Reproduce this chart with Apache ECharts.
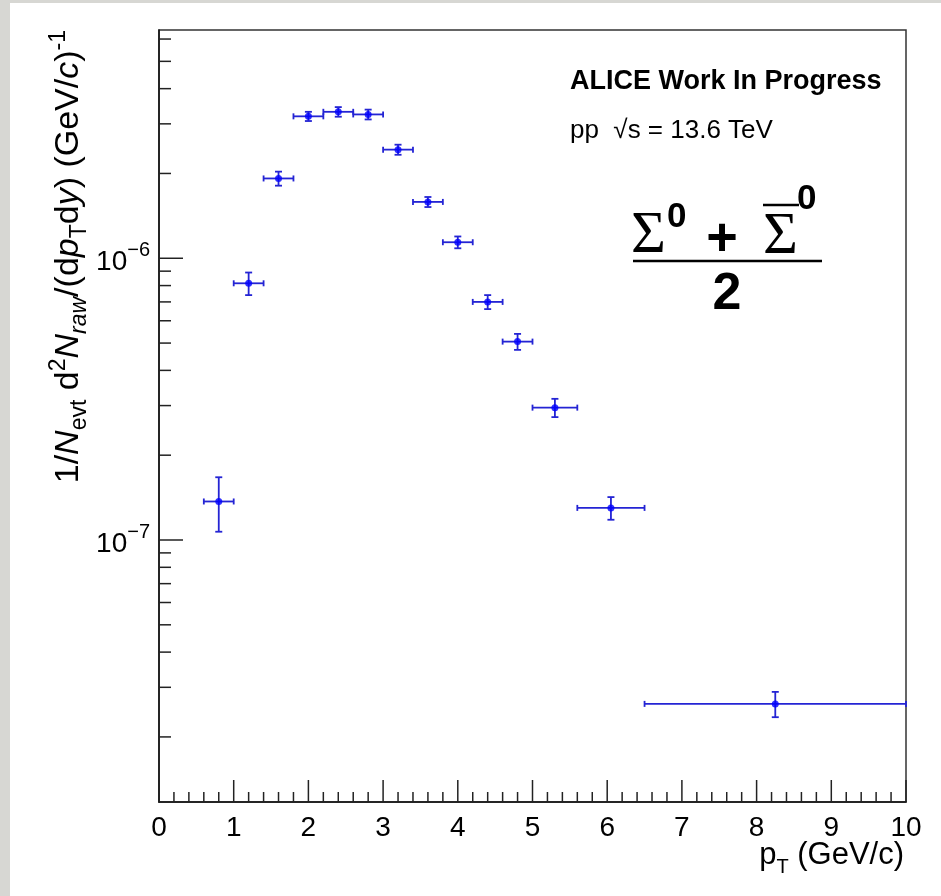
<!DOCTYPE html>
<html><head><meta charset="utf-8">
<script src="https://cdn.jsdelivr.net/npm/echarts@6/dist/echarts.min.js"></script>
<style>html,body{margin:0;padding:0;background:#fff;overflow:hidden}#c{width:941px;height:896px}</style>
</head><body><div id="c"></div>
<script>
// ---- data ----
const ptCenter = [0.8, 1.2, 1.6, 2.0, 2.4, 2.8, 3.2, 3.6, 4.0, 4.4, 4.8, 5.3, 6.05, 8.25];
const ptLow    = [0.6, 1.0, 1.4, 1.8, 2.2, 2.6, 3.0, 3.4, 3.8, 4.2, 4.6, 5.0, 5.6, 6.5];
const ptHigh   = [1.0, 1.4, 1.8, 2.2, 2.6, 3.0, 3.4, 3.8, 4.2, 4.6, 5.0, 5.6, 6.5, 10.0];
const yieldVal = [1.37e-7, 8.15e-7, 1.92e-6, 3.19e-6, 3.31e-6, 3.24e-6, 2.43e-6, 1.585e-6, 1.14e-6, 7.0e-7, 5.06e-7, 2.95e-7, 1.30e-7, 2.62e-8];
const yieldErr = [3.0e-8, 7.5e-8, 1.1e-7, 1.2e-7, 1.3e-7, 1.3e-7, 1.0e-7, 6.5e-8, 5.5e-8, 4.0e-8, 3.3e-8, 2.2e-8, 1.2e-8, 2.7e-9];

const xRange = [0, 10];
const yRange = [1.175e-8, 6.46e-6];
const xMajorTicks = [0, 1, 2, 3, 4, 5, 6, 7, 8, 9, 10];
const xMinorTicks = [0.2, 0.4, 0.6, 0.8, 1.2, 1.4, 1.6, 1.8, 2.2, 2.4, 2.6, 2.8, 3.2, 3.4, 3.6, 3.8,
  4.2, 4.4, 4.6, 4.8, 5.2, 5.4, 5.6, 5.8, 6.2, 6.4, 6.6, 6.8, 7.2, 7.4, 7.6, 7.8, 8.2, 8.4, 8.6, 8.8,
  9.2, 9.4, 9.6, 9.8];
const yMajorTicks = [1e-7, 1e-6];
const yMinorTicks = [2e-8, 3e-8, 4e-8, 5e-8, 6e-8, 7e-8, 8e-8, 9e-8,
  2e-7, 3e-7, 4e-7, 5e-7, 6e-7, 7e-7, 8e-7, 9e-7,
  2e-6, 3e-6, 4e-6, 5e-6, 6e-6];

const SANS = '"Liberation Sans", Arial, Helvetica, sans-serif';
const SERIF = '"Liberation Serif", "Times New Roman", serif';

// ---- build series data ----
const pointData = ptCenter.map((x, i) => [x, yieldVal[i]]);
const errData = ptCenter.map((x, i) => [x, yieldVal[i], ptLow[i], ptHigh[i], yieldErr[i]]);
const tickData = [];
xMajorTicks.forEach(v => tickData.push([v, yRange[0], 22, 0]));
xMinorTicks.forEach(v => tickData.push([v, yRange[0], 10, 0]));
yMajorTicks.forEach(v => tickData.push([xRange[0], v, 24, 1]));
yMinorTicks.forEach(v => tickData.push([xRange[0], v, 12, 1]));

const chart = echarts.init(document.getElementById('c'), null, {renderer: 'canvas'});

const yTitle = '{n|1/}{ni|N}{sub|evt}{n| d}{sup|2}{ni|N}{subi|raw}{n|/(d}{ni|p}{sub|T}{n|d}{ni|y}{n|) (GeV/}{ni|c}{n|)}{sup|-1}';

chart.setOption({
  backgroundColor: '#ffffff',
  animation: false,
  grid: {left: 159, right: 35, top: 30, bottom: 94, show: true, borderColor: '#333', borderWidth: 1.5,
         backgroundColor: 'transparent', containLabel: false, outerBoundsMode: 'none'},
  xAxis: {
    type: 'value', min: xRange[0], max: xRange[1], interval: 1,
    axisLine: {show: true, lineStyle: {color: '#111', width: 1.5}},
    axisTick: {show: false}, splitLine: {show: false},
    axisLabel: {color: '#000', fontFamily: SANS, fontSize: 28, margin: 12}
  },
  yAxis: {
    type: 'log', logBase: 10, min: yRange[0], max: yRange[1],
    axisLine: {show: true, lineStyle: {color: '#111', width: 1.5}},
    axisTick: {show: false}, splitLine: {show: false}, minorTick: {show: false},
    axisLabel: {
      margin: 9,
      formatter: function (v) {
        const l = Math.log10(v), r = Math.round(l);
        if (Math.abs(l - r) > 1e-6) return '';
        return '{h|\u200b}{b|10}{s|' + (r < 0 ? '\u2212' : '') + Math.abs(r) + '}';
      },
      rich: {
        h: {fontFamily: SANS, fontSize: 10, lineHeight: 36},
        b: {fontFamily: SANS, fontSize: 28, color: '#000', lineHeight: 28, verticalAlign: 'bottom'},
        s: {fontFamily: SANS, fontSize: 20, color: '#000', lineHeight: 20, verticalAlign: 'top'}
      }
    }
  },
  graphic: [
    {type: 'rect', silent: true, z: 100, shape: {x: 0, y: 0, width: 10, height: 896}, style: {fill: '#d7d7d3'}},
    {type: 'rect', silent: true, z: 100, shape: {x: 0, y: 0, width: 941, height: 3}, style: {fill: '#d7d7d3'}},
    {type: 'text', x: 570, y: 82, style: {text: 'ALICE Work In Progress', fontFamily: SANS, fontWeight: 'bold', fontSize: 27, fill: '#000', verticalAlign: 'middle', align: 'left'}},
    {type: 'text', x: 570, y: 131, style: {text: 'pp  \u221As = 13.6 TeV', fontFamily: SANS, fontSize: 26, fill: '#000', verticalAlign: 'middle', align: 'left'}},
    {type: 'text', x: 631, y: 236, style: {text: '\u03A3', fontFamily: SERIF, fontSize: 60, fill: '#000', verticalAlign: 'middle', align: 'left'}},
    {type: 'text', x: 667, y: 217, style: {text: '0', fontFamily: SANS, fontWeight: 'bold', fontSize: 35, fill: '#000', verticalAlign: 'middle', align: 'left'}},
    {type: 'text', x: 722, y: 240, style: {text: '+', fontFamily: SANS, fontWeight: 'bold', fontSize: 54, fill: '#000', verticalAlign: 'middle', align: 'center'}},
    {type: 'text', x: 763, y: 237, style: {text: '\u03A3', fontFamily: SERIF, fontSize: 60, fill: '#000', verticalAlign: 'middle', align: 'left'}},
    {type: 'line', shape: {x1: 763, y1: 205, x2: 799, y2: 205}, style: {stroke: '#000', lineWidth: 2.5}},
    {type: 'text', x: 797, y: 199, style: {text: '0', fontFamily: SANS, fontWeight: 'bold', fontSize: 35, fill: '#000', verticalAlign: 'middle', align: 'left'}},
    {type: 'line', shape: {x1: 633, y1: 261, x2: 822, y2: 261}, style: {stroke: '#000', lineWidth: 2.5}},
    {type: 'text', x: 727, y: 295, style: {text: '2', fontFamily: SANS, fontWeight: 'bold', fontSize: 52, fill: '#000', verticalAlign: 'middle', align: 'center'}},
    {type: 'text', x: 904, y: 855, style: {text: '{n|p}{sub|T}{n| (GeV/c)}', align: 'right', verticalAlign: 'middle',
      rich: {n: {fontFamily: SANS, fontSize: 31, fill: '#000', lineHeight: 44},
             sub: {fontFamily: SANS, fontSize: 20, fill: '#000', lineHeight: 12, verticalAlign: 'bottom'}}}},
    {type: 'text', x: 69, y: 30, rotation: Math.PI / 2, style: {text: yTitle, align: 'right', verticalAlign: 'middle',
      rich: {
        n: {fontFamily: SANS, fontSize: 34, fill: '#000', lineHeight: 44},
        ni: {fontFamily: SANS, fontStyle: 'italic', fontSize: 34, fill: '#000', lineHeight: 44},
        sub: {fontFamily: SANS, fontSize: 23, fill: '#000', lineHeight: 22, verticalAlign: 'bottom'},
        subi: {fontFamily: SANS, fontStyle: 'italic', fontSize: 23, fill: '#000', lineHeight: 22, verticalAlign: 'bottom'},
        sup: {fontFamily: SANS, fontSize: 23, fill: '#000', lineHeight: 22, verticalAlign: 'top'}
      }}}
  ],
  series: [
    {
      type: 'custom', name: 'ticks', silent: true, z: 3, data: tickData,
      encode: {x: 0, y: 1},
      renderItem: function (params, api) {
        const p = api.coord([api.value(0), api.value(1)]);
        const len = api.value(2), vertical = api.value(3) === 0;
        return {type: 'line', shape: vertical ? {x1: p[0], y1: p[1], x2: p[0], y2: p[1] - len}
                                              : {x1: p[0], y1: p[1], x2: p[0] + len, y2: p[1]},
                style: {stroke: '#222', lineWidth: 1.5}};
      }
    },
    {
      type: 'custom', name: 'errors', silent: true, z: 4, data: errData,
      encode: {x: 0, y: 1},
      renderItem: function (params, api) {
        const x = api.value(0), y = api.value(1), xl = api.value(2), xh = api.value(3), e = api.value(4);
        const pL = api.coord([xl, y]), pR = api.coord([xh, y]);
        const pT = api.coord([x, y + e]), pB = api.coord([x, y - e]);
        const st = {stroke: '#2424d4', lineWidth: 1.8};
        const ln = (a, b, c, d) => ({type: 'line', shape: {x1: a, y1: b, x2: c, y2: d}, style: st});
        return {type: 'group', children: [
          ln(pL[0], pL[1], pR[0], pR[1]),
          ln(pT[0], pT[1], pB[0], pB[1]),
          ln(pL[0], pL[1] - 3, pL[0], pL[1] + 3),
          ln(pR[0], pR[1] - 3, pR[0], pR[1] + 3),
          ln(pT[0] - 3.5, pT[1], pT[0] + 3.5, pT[1]),
          ln(pB[0] - 3.5, pB[1], pB[0] + 3.5, pB[1])
        ]};
      }
    },
    {
      type: 'scatter', name: 'yield', z: 5, data: pointData, symbol: 'circle', symbolSize: 7,
      itemStyle: {color: '#0000ff'}
    }
  ]
});
</script></body></html>
